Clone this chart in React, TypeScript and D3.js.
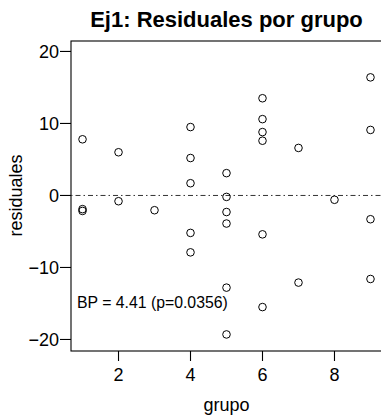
import React from "react";
import * as d3 from "d3";

const groups: number[] = [1, 1, 1, 2, 2, 3, 4, 4, 4, 4, 4, 5, 5, 5, 5, 5, 5, 6, 6, 6, 6, 6, 6, 7, 7, 8, 9, 9, 9, 9];
const residuals: number[] = [7.8, -1.9, -2.15, 6.0, -0.8, -2.05, 9.5, 5.2, 1.7, -5.2, -7.9, 3.1, -0.2, -2.3, -3.9, -12.8, -19.3, 13.5, 10.6, 8.8, 7.6, -5.4, -15.5, 6.6, -12.1, -0.6, 16.4, 9.1, -3.3, -11.6];
const xTicks: number[] = [2, 4, 6, 8];
const yTicks: number[] = [-20, -10, 0, 10, 20];
const title = "Ej1: Residuales por grupo";
const xLabel = "grupo";
const yLabel = "residuales";
const note = "BP = 4.41 (p=0.0356)";

const W = 381;
const H = 419;
const left = 71, right = 382, top = 41, bottom = 351;
const FONT = "'Liberation Sans', Arial, Helvetica, sans-serif";

export default function App() {
  const x = d3.scaleLinear().domain([0.68, 9.32]).range([left, right]);
  const y = d3.scaleLinear().domain([-21.6, 21.45]).range([bottom, top]);
  const minus = (v: number) => (v < 0 ? "\u2212" + Math.abs(v) : String(v));
  return (
    <svg width={W} height={H} style={{ position: "absolute", left: 0, top: 0, background: "#fff" }} fontFamily={FONT}>
      <rect x={0} y={0} width={W} height={H} fill="#fff" />
      <text x={(left + right) / 2} y={26.5} textAnchor="middle" fontWeight="bold" fontSize={22}>{title}</text>
      <rect x={left} y={top} width={right - left} height={bottom - top} fill="none" stroke="#000" strokeWidth={1.1} />
      {yTicks.map((t) => (
        <g key={"y" + t}>
          <line x1={left - 11} x2={left} y1={y(t)} y2={y(t)} stroke="#000" strokeWidth={1.1} />
          <text x={left - 12} y={y(t)} dy="0.35em" textAnchor="end" fontSize={18}>{minus(t)}</text>
        </g>
      ))}
      {xTicks.map((t) => (
        <g key={"x" + t}>
          <line x1={x(t)} x2={x(t)} y1={bottom} y2={bottom + 10} stroke="#000" strokeWidth={1.1} />
          <text x={x(t)} y={381} textAnchor="middle" fontSize={18}>{t}</text>
        </g>
      ))}
      <text x={(left + right) / 2} y={411} textAnchor="middle" fontSize={18}>{xLabel}</text>
      <text transform={`translate(22,${y(0)}) rotate(-90)`} textAnchor="middle" fontSize={18}>{yLabel}</text>
      <line x1={left} x2={right} y1={y(0)} y2={y(0)} stroke="#333" strokeWidth={1} strokeDasharray="1.5 3 5 3" />
      {residuals.map((r, i) => (
        <circle key={i} cx={x(groups[i])} cy={y(r)} r={3.8} fill="none" stroke="#000" strokeWidth={1} />
      ))}
      <text x={77} y={308} fontSize={15.8}>{note}</text>
    </svg>
  );
}
